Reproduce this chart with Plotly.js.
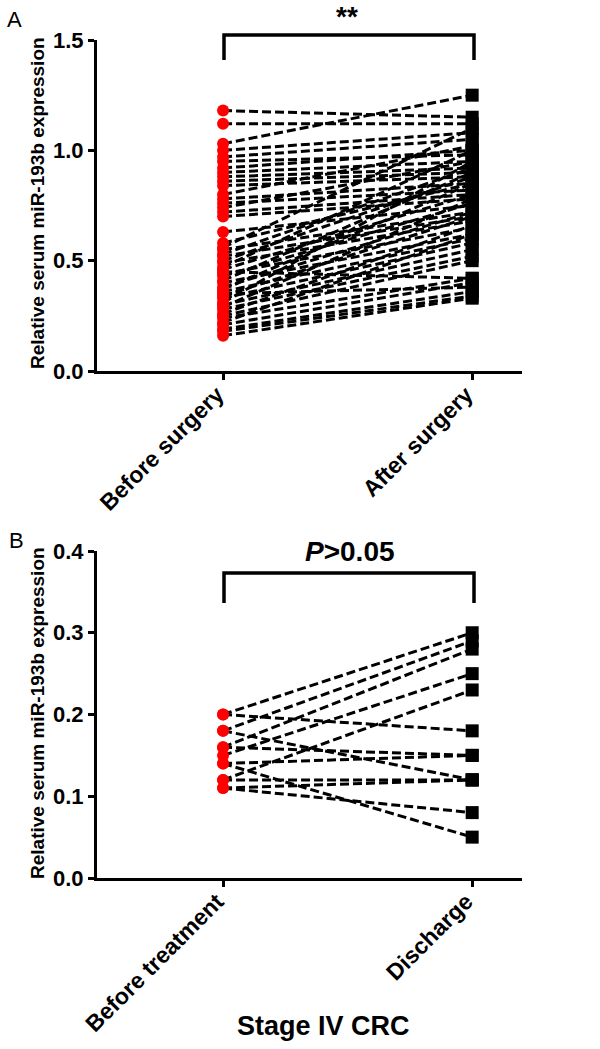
<!DOCTYPE html>
<html>
<head>
<meta charset="utf-8">
<script src="https://cdn.plot.ly/plotly-3.0.1.min.js"></script>
<style>html,body{margin:0;padding:0;background:#fff;}#chart{width:600px;height:1049px;}</style>
</head>
<body>
<div id="chart"></div>
<script>
// Panel A data
const catsA = ['Before surgery', 'After surgery'];
const beforeSurgery = [1.18,1.12,1.03,1.00,0.97,0.95,0.92,0.90,0.88,0.86,0.84,0.80,0.78,0.76,0.74,0.72,0.70,0.63,0.58,0.56,0.55,0.53,0.52,0.50,0.49,0.47,0.46,0.44,0.43,0.41,0.40,0.38,0.37,0.36,0.34,0.33,0.31,0.30,0.29,0.28,0.26,0.25,0.24,0.22,0.21,0.19,0.18,0.16,0.35,0.45];
const afterSurgery  = [1.15,1.12,1.25,1.08,1.05,0.98,1.00,0.95,0.92,0.90,0.88,1.02,0.85,0.82,0.95,0.80,0.78,0.75,0.85,1.10,0.72,0.92,0.70,0.88,0.68,1.00,0.80,0.65,0.76,0.90,0.62,0.72,0.85,0.60,0.70,0.58,0.95,0.55,0.78,0.52,0.66,0.50,0.42,0.62,0.40,0.36,0.34,0.33,0.38,0.42];
const yTicksA = [0, 0.5, 1.0, 1.5];
const sigA = '**';

// Panel B data
const catsB = ['Before treatment', 'Discharge'];
const beforeTreatment = [0.20,0.18,0.16,0.15,0.12,0.20,0.16,0.14,0.18,0.12,0.11,0.14,0.11];
const discharge       = [0.30,0.29,0.28,0.25,0.23,0.18,0.15,0.15,0.12,0.12,0.08,0.05,0.12];
const yTicksB = [0, 0.1, 0.2, 0.3, 0.4];
const sigB = '<i>P</i>>0.05';
const titleB = 'Stage IV CRC';
const yTitle = 'Relative serum miR-193b expression';

const W = 600, H = 1049;
const px = v => v / W;
const py = v => 1 - v / H;
const FONT = 'Liberation Sans, Arial, sans-serif';

function pairTraces(cats, before, after, xa, ya) {
  const lx = [], ly = [];
  for (let i = 0; i < before.length; i++) {
    lx.push(cats[0], cats[1], null);
    ly.push(before[i], after[i], null);
  }
  return [
    {type: 'scatter', mode: 'lines', x: lx, y: ly, xaxis: xa, yaxis: ya,
     line: {color: '#000', width: 3, dash: '9px,4px'}, hoverinfo: 'skip', showlegend: false, cliponaxis: false},
    {type: 'scatter', mode: 'markers', x: before.map(() => cats[0]), y: before, xaxis: xa, yaxis: ya,
     marker: {symbol: 'circle', size: 12, color: '#ff0000'}, showlegend: false, cliponaxis: false},
    {type: 'scatter', mode: 'markers', x: after.map(() => cats[1]), y: after, xaxis: xa, yaxis: ya,
     marker: {symbol: 'square', size: 13, color: '#000'}, showlegend: false, cliponaxis: false}
  ];
}

const data = [].concat(
  pairTraces(catsA, beforeSurgery, afterSurgery, 'x', 'y'),
  pairTraces(catsB, beforeTreatment, discharge, 'x2', 'y2')
);

const xCommon = {
  type: 'category', range: [-0.506, 1.2], showline: true, linewidth: 3, linecolor: '#000',
  ticks: 'outside', ticklen: 6, tickwidth: 3, tickcolor: '#000', tickangle: -45,
  ticklabelstandoff: -8, ticklabelshift: -6,
  showgrid: false, zeroline: false, automargin: false, fixedrange: true,
  tickfont: {family: FONT, size: 23, color: '#000', weight: 'bold'}
};
const yCommon = {
  showline: true, linewidth: 3, linecolor: '#000', ticks: 'outside', ticklen: 6, tickwidth: 3,
  tickcolor: '#000', showgrid: false, zeroline: false, automargin: false, tickformat: '.1f',
  tickfont: {family: FONT, size: 22, color: '#000', weight: 'bold'}
};

function ann(text, x, y, size, bold, angle) {
  return {text: text, xref: 'paper', yref: 'paper', x: px(x), y: py(y), xanchor: 'center', yanchor: 'middle',
    textangle: angle || 0, showarrow: false,
    font: {family: FONT, size: size, color: '#000', weight: bold ? 'bold' : 'normal'}};
}

const layout = {
  width: W, height: H, margin: {l: 0, r: 0, t: 0, b: 0},
  paper_bgcolor: '#fff', plot_bgcolor: '#fff', showlegend: false,
  xaxis: Object.assign({}, xCommon, {domain: [px(97), px(522)], anchor: 'y', categoryarray: catsA, categoryorder: 'array'}),
  yaxis: Object.assign({}, yCommon, {domain: [py(371), py(40)], anchor: 'x', range: [0, 1.5], tickvals: yTicksA}),
  xaxis2: Object.assign({}, xCommon, {domain: [px(97), px(522)], anchor: 'y2', categoryarray: catsB, categoryorder: 'array'}),
  yaxis2: Object.assign({}, yCommon, {domain: [py(878), py(551)], anchor: 'x2', range: [0, 0.4], tickvals: yTicksB}),
  shapes: [
    {type: 'path', xref: 'paper', yref: 'paper',
     path: `M ${px(224)} ${py(60)} L ${px(224)} ${py(35)} L ${px(474)} ${py(35)} L ${px(474)} ${py(60)}`,
     line: {color: '#000', width: 3.5}},
    {type: 'path', xref: 'paper', yref: 'paper',
     path: `M ${px(224)} ${py(603)} L ${px(224)} ${py(573)} L ${px(474)} ${py(573)} L ${px(474)} ${py(603)}`,
     line: {color: '#000', width: 3.5}}
  ],
  annotations: [
    ann('A', 14, 19, 22, false),
    ann('B', 16, 540, 22, false),
    ann(sigA, 347, 17, 28, true),
    ann(sigB, 350, 552, 28, true),
    ann(yTitle, 37, 203, 19, true, -90),
    ann(yTitle, 37, 713, 19, true, -90),
    ann(titleB, 323, 1026, 27, true)
  ]
};

Plotly.newPlot('chart', data, layout, {staticPlot: true, displayModeBar: false});
</script>
</body>
</html>
